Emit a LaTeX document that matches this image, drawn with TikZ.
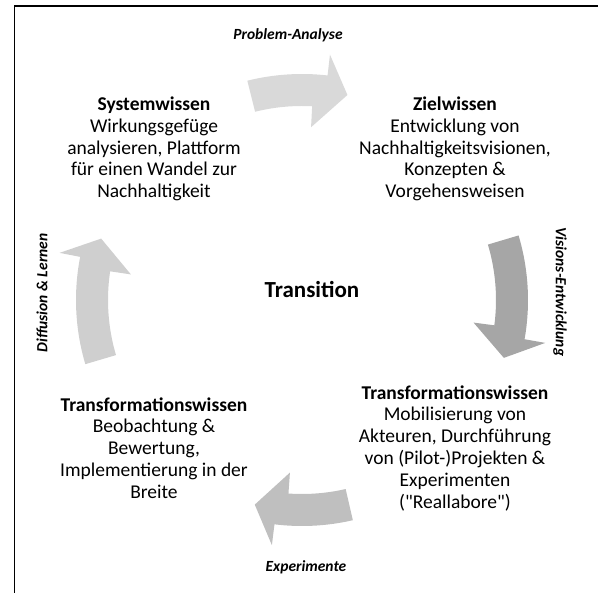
\documentclass[tikz,border=0pt]{standalone}
\usepackage{fontspec}
\newfontfamily\calibri{Carlito}
\usetikzlibrary{calc}
\newcommand{\cyclearrow}[5]{%
  \fill[#5] ($(c)+(#1:226)$) arc[start angle=#1, end angle=#2, radius=226]
    -- ($(c)+(#2:247)$) -- ($(c)+(#4:210)$) -- ($(c)+(#3:173)$)
    -- ($(c)+(#3:194)$) arc[start angle=#3, end angle=#1, radius=194] -- cycle;}
\begin{document}
\begin{tikzpicture}[x=1pt,y=1pt,
  box/.style={align=center,font=\calibri\fontsize{19.5}{21.8}\selectfont},
  flow/.style={font=\calibri\fontsize{15.5}{18}\selectfont\bfseries\itshape}]
\useasboundingbox (0,0) rectangle (598,-593);
\draw [line width=1.6pt] (598,-6) -- (14.5,-6) -- (14.5,-593);
\coordinate (c) at (302,-300);
\cyclearrow{104}{83.5}{87}{77.5}{black!15}
\cyclearrow{16.6}{-10}{-7.5}{-16}{black!35}
\cyclearrow{-77}{-97}{-94}{-103}{black!25}
\cyclearrow{196.5}{169}{171.5}{163}{black!19}
\node [box] (sys) at (154,-149) {\textbf{Systemwissen}\\Wirkungsgefüge\\analysieren, Plattform\\für einen Wandel zur\\Nachhaltigkeit};
\node [box] (ziel) at (455,-149) {\textbf{Zielwissen}\\Entwicklung von\\Nachhaltigkeitsvisionen,\\Konzepten \&\\Vorgehensweisen};
\node [box] (trafor) at (455,-448) {\textbf{Transformationswissen}\\Mobilisierung von\\Akteuren, Durchführung\\von (Pilot-)Projekten \&\\Experimenten\\("Reallabore")};
\node [box] (trafol) at (154,-448) {\textbf{Transformationswissen}\\Beobachtung \&\\Bewertung,\\Implementierung in der\\Breite};
\node [font=\calibri\fontsize{23}{27}\selectfont\bfseries] (trans) at (312,-290) {Transition};
\node [flow] (probl) at (288,-35) {Problem-Analyse};
\node [flow,rotate=-90] (vis) at (560,-292) {Visions-Entwicklung};
\node [flow] (exper) at (306,-567) {Experimente};
\node [flow,rotate=90] (diff) at (42,-293) {Diffusion \& Lernen};
\end{tikzpicture}
\end{document}
